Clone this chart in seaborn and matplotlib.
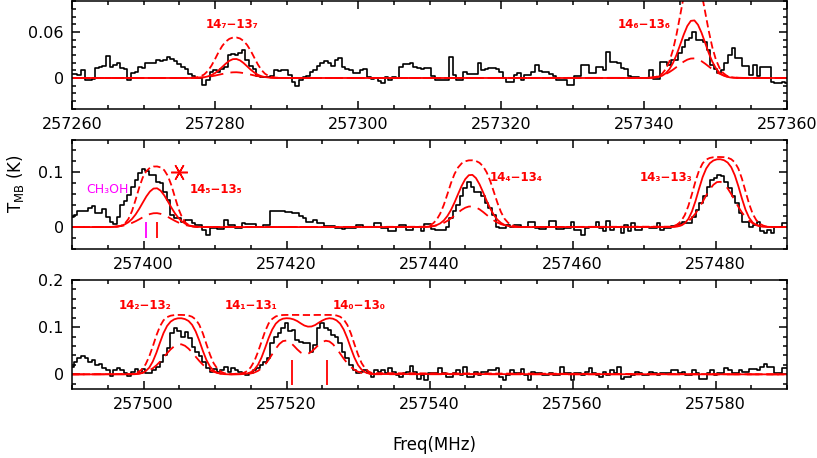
import numpy as np
import pandas as pd
import matplotlib
matplotlib.use("Agg")
import matplotlib.pyplot as plt
import seaborn as sns
from matplotlib.ticker import MultipleLocator

# ---------------- data ----------------
CHAN = 0.5  # channel width (MHz)
p1_start, p2_start, p3_start = 257260.0, 257390.0, 257490.0

obs_p1 = [
    0.005, 0.005, 0.004, 0.010, -0.002, -0.002, -0.001, 0.013, 0.014, 0.016,
    0.029, 0.015, 0.017, 0.019, 0.013, 0.012, -0.002, 0.006, 0.008, 0.015,
    0.013, 0.020, 0.020, 0.020, 0.023, 0.022, 0.024, 0.028, 0.025, 0.022,
    0.018, 0.015, 0.012, 0.005, 0.002, 0.000, 0.000, -0.009, -0.003, 0.008,
    0.011, 0.008, 0.012, 0.014, 0.030, 0.031, 0.030, 0.033, 0.036, 0.024,
    0.016, 0.012, 0.003, 0.001, 0.001, 0.001, 0.002, 0.010, 0.009, 0.010,
    0.011, 0.004, -0.005, -0.011, -0.003, 0.001, 0.002, 0.008, 0.010, 0.016,
    0.019, 0.022, 0.020, 0.016, 0.024, 0.026, 0.014, 0.012, 0.010, 0.007,
    0.006, 0.011, 0.012, 0.001, -0.001, 0.000, -0.004, -0.006, 0.001, -0.002,
    0.001, 0.000, 0.014, 0.018, 0.018, 0.019, 0.015, 0.013, 0.012, 0.013,
    0.0125, 0.002, -0.002, -0.002, -0.003, -0.003, 0.027, 0.004, -0.003, -0.003,
    0.008, 0.005, 0.005, 0.005, 0.019, 0.010, 0.012, 0.0125, 0.013, 0.012,
    0.008, 0.000, -0.005, -0.005, 0.004, 0.006, -0.002, 0.004, 0.004, 0.008,
    0.017, 0.009, 0.008, 0.008, 0.005, 0.003, -0.002, -0.003, -0.003, -0.009,
    -0.009, 0.002, 0.002, 0.017, 0.017, 0.006, 0.006, 0.015, 0.014, 0.010,
    0.034, 0.021, 0.021, 0.019, 0.013, 0.012, 0.003, 0.001, 0.001, 0.000,
    0.000, 0.000, 0.010, -0.001, -0.001, 0.021, 0.021, 0.017, 0.023, 0.023,
    0.032, 0.041, 0.049, 0.052, 0.060, 0.050, 0.050, 0.047, 0.036, 0.017,
    0.012, 0.006, 0.010, 0.019, 0.030, 0.039, 0.026, 0.026, 0.016, 0.016,
    0.004, 0.017, 0.002, 0.015, 0.015, 0.015, -0.005, -0.006, -0.006, -0.005,
    -0.006]

obs_p2 = [
    0.019, 0.022, 0.030, 0.030, 0.030, 0.035, 0.038, 0.026, 0.026, 0.033,
    0.019, 0.010, 0.006, 0.019, 0.040, 0.047, 0.059, 0.074, 0.086, 0.099,
    0.106, 0.102, 0.096, 0.096, 0.083, 0.080, 0.065, 0.050, 0.022, 0.016,
    0.016, 0.010, 0.013, 0.013, 0.007, 0.004, 0.004, -0.005, -0.014, -0.002,
    -0.002, -0.004, -0.004, 0.013, 0.004, 0.004, -0.002, -0.002, 0.007, 0.006,
    0.006, 0.006, 0.000, 0.000, 0.004, 0.004, 0.029, 0.030, 0.030, 0.030,
    0.027, 0.027, 0.025, 0.025, 0.021, 0.016, 0.010, 0.010, 0.013, 0.008,
    0.008, 0.002, 0.002, 0.002, -0.002, -0.002, -0.004, -0.002, -0.002, -0.002,
    0.004, 0.004, 0.000, 0.000, 0.000, 0.008, 0.008, -0.002, -0.002, -0.008,
    -0.008, 0.000, 0.004, 0.004, -0.005, -0.005, 0.001, 0.001, -0.008, 0.006,
    0.006, -0.004, -0.005, -0.005, -0.005, 0.001, 0.016, 0.029, 0.041, 0.056,
    0.071, 0.082, 0.074, 0.065, 0.065, 0.056, 0.044, 0.035, 0.022, 0.001,
    -0.002, -0.002, 0.004, 0.000, 0.004, 0.004, 0.000, 0.000, 0.010, 0.010,
    -0.002, -0.004, -0.004, 0.000, 0.012, 0.012, -0.004, -0.004, -0.002, -0.002,
    0.010, -0.005, -0.005, -0.014, -0.002, 0.000, 0.000, 0.010, -0.002, -0.008,
    0.012, -0.005, 0.000, 0.000, -0.011, 0.004, -0.008, 0.008, -0.005, -0.005,
    0.000, 0.000, -0.002, -0.002, 0.008, -0.005, -0.002, -0.002, 0.002, 0.002,
    0.006, 0.010, 0.008, 0.008, 0.019, 0.032, 0.044, 0.056, 0.074, 0.086,
    0.090, 0.096, 0.093, 0.083, 0.071, 0.056, 0.044, 0.026, 0.010, 0.010,
    0.001, 0.004, 0.010, -0.008, -0.011, -0.005, -0.010, 0.001, 0.001, 0.008,
    0.008]

obs_p3 = [
    0.016, 0.027, 0.034, 0.039, 0.034, 0.027, 0.030, 0.020, 0.022, 0.013,
    0.009, -0.004, 0.009, 0.013, 0.009, 0.002, -0.004, 0.006, 0.012, 0.002,
    0.011, 0.002, 0.003, 0.009, 0.015, 0.027, 0.041, 0.055, 0.087, 0.098,
    0.091, 0.080, 0.089, 0.077, 0.059, 0.048, 0.038, 0.027, 0.013, 0.006,
    0.011, 0.006, 0.009, 0.015, 0.006, 0.013, 0.009, 0.006, 0.002, -0.001,
    0.002, 0.009, 0.013, 0.020, 0.027, 0.034, 0.066, 0.080, 0.087, 0.098,
    0.108, 0.091, 0.094, 0.073, 0.069, 0.067, 0.066, 0.048, 0.062, 0.098,
    0.108, 0.098, 0.094, 0.084, 0.080, 0.066, 0.048, 0.034, 0.020, 0.009,
    0.002, 0.006, 0.009, 0.002, -0.005, 0.009, 0.006, 0.009, 0.003, 0.013,
    0.006, -0.001, -0.005, 0.002, 0.006, 0.018, 0.006, -0.009, -0.001, -0.012,
    0.002, 0.002, 0.002, 0.013, 0.003, -0.006, -0.006, 0.002, 0.009, -0.001,
    0.016, -0.005, -0.005, 0.006, -0.001, 0.006, 0.006, 0.009, 0.009, 0.013,
    -0.005, -0.012, -0.001, 0.009, 0.003, 0.003, 0.011, -0.001, -0.012, 0.006,
    0.002, 0.002, -0.001, -0.001, 0.003, -0.001, -0.001, 0.016, 0.002, 0.002,
    -0.012, 0.002, 0.002, -0.001, 0.006, 0.013, 0.002, -0.001, -0.005, 0.006,
    -0.001, 0.009, 0.002, 0.016, -0.009, -0.005, -0.005, -0.001, 0.006, 0.002,
    -0.001, -0.001, 0.006, 0.002, -0.001, 0.002, 0.002, 0.003, 0.009, 0.009,
    0.002, 0.006, -0.001, -0.001, 0.009, 0.002, -0.009, -0.009, 0.002, 0.009,
    -0.001, 0.002, 0.002, 0.013, 0.009, 0.002, 0.002, 0.009, 0.006, 0.006,
    0.011, 0.011, 0.009, 0.016, 0.023, 0.016, 0.016, 0.002, 0.002, 0.013,
    0.013]

# model profiles (solid = best fit, upper / lower = dashed envelopes), 0.5 MHz grid
m7_start = 257276.0
m7_solid = [0.0000, 0.0000, 0.0001, 0.0002, 0.0005, 0.0010, 0.0021, 0.0038, 0.0064, 0.0100, 0.0143, 0.0187, 0.0224, 0.0246, 0.0248, 0.0230, 0.0195, 0.0152, 0.0108, 0.0071, 0.0042, 0.0023, 0.0012, 0.0006, 0.0002, 0.0001, 0.0000, 0.0000, 0.0000]
m7_upper = [0.0000, 0.0001, 0.0004, 0.0009, 0.0022, 0.0047, 0.0093, 0.0160, 0.0246, 0.0338, 0.0417, 0.0475, 0.0511, 0.0528, 0.0529, 0.0516, 0.0484, 0.0430, 0.0355, 0.0265, 0.0176, 0.0104, 0.0055, 0.0026, 0.0011, 0.0004, 0.0002, 0.0000, 0.0000]
m7_lower = [0.0000, 0.0001, 0.0002, 0.0003, 0.0006, 0.0010, 0.0015, 0.0022, 0.0031, 0.0042, 0.0052, 0.0062, 0.0070, 0.0074, 0.0075, 0.0071, 0.0064, 0.0054, 0.0044, 0.0033, 0.0024, 0.0016, 0.0011, 0.0006, 0.0004, 0.0002, 0.0001, 0.0001, 0.0000]

m6_start = 257340.05
m6_solid = [0.0000, 0.0001, 0.0002, 0.0006, 0.0014, 0.0030, 0.0062, 0.0114, 0.0195, 0.0303, 0.0432, 0.0565, 0.0678, 0.0746, 0.0752, 0.0695, 0.0590, 0.0459, 0.0327, 0.0214, 0.0128, 0.0070, 0.0036, 0.0017, 0.0007, 0.0003, 0.0001, 0.0000, 0.0000]
m6_upper = [0.0000, 0.0001, 0.0004, 0.0011, 0.0026, 0.0057, 0.0117, 0.0215, 0.0366, 0.0570, 0.0814, 0.1063, 0.1275, 0.1404, 0.1415, 0.1308, 0.1110, 0.0864, 0.0616, 0.0403, 0.0241, 0.0133, 0.0067, 0.0031, 0.0013, 0.0005, 0.0002, 0.0001, 0.0000]
m6_lower = [0.0002, 0.0003, 0.0006, 0.0012, 0.0020, 0.0033, 0.0052, 0.0077, 0.0108, 0.0143, 0.0179, 0.0213, 0.0239, 0.0254, 0.0256, 0.0243, 0.0219, 0.0187, 0.0150, 0.0115, 0.0082, 0.0056, 0.0036, 0.0022, 0.0013, 0.0007, 0.0004, 0.0002, 0.0001]

m5_start = 257394.9
m5_solid = [0.0001, 0.0002, 0.0006, 0.0013, 0.0026, 0.0051, 0.0090, 0.0150, 0.0232, 0.0334, 0.0448, 0.0560, 0.0650, 0.0704, 0.0709, 0.0665, 0.0580, 0.0471, 0.0357, 0.0251, 0.0165, 0.0101, 0.0057, 0.0030, 0.0015, 0.0007, 0.0003, 0.0001, 0.0000]
m5_upper = [0.0000, 0.0001, 0.0003, 0.0009, 0.0025, 0.0065, 0.0150, 0.0296, 0.0501, 0.0723, 0.0908, 0.1023, 0.1083, 0.1106, 0.1108, 0.1090, 0.1040, 0.0936, 0.0765, 0.0545, 0.0333, 0.0174, 0.0078, 0.0031, 0.0011, 0.0003, 0.0001, 0.0000, 0.0000]
m5_lower = [0.0002, 0.0003, 0.0006, 0.0012, 0.0020, 0.0033, 0.0052, 0.0077, 0.0107, 0.0142, 0.0179, 0.0212, 0.0238, 0.0253, 0.0255, 0.0242, 0.0218, 0.0186, 0.0150, 0.0114, 0.0082, 0.0056, 0.0036, 0.0022, 0.0013, 0.0007, 0.0004, 0.0002, 0.0001]

m4_start = 257439.0
m4_solid = [0.0001, 0.0003, 0.0008, 0.0017, 0.0036, 0.0068, 0.0121, 0.0202, 0.0312, 0.0450, 0.0604, 0.0754, 0.0876, 0.0948, 0.0954, 0.0895, 0.0781, 0.0635, 0.0480, 0.0338, 0.0222, 0.0135, 0.0077, 0.0040, 0.0020, 0.0009, 0.0004, 0.0002, 0.0001]
m4_upper = [0.0006, 0.0013, 0.0031, 0.0067, 0.0135, 0.0247, 0.0405, 0.0600, 0.0802, 0.0971, 0.1090, 0.1164, 0.1202, 0.1219, 0.1220, 0.1208, 0.1174, 0.1109, 0.1000, 0.0839, 0.0643, 0.0444, 0.0274, 0.0152, 0.0078, 0.0036, 0.0015, 0.0007, 0.0002]
m4_lower = [0.0002, 0.0005, 0.0009, 0.0017, 0.0030, 0.0049, 0.0077, 0.0114, 0.0159, 0.0211, 0.0265, 0.0315, 0.0354, 0.0376, 0.0378, 0.0360, 0.0324, 0.0276, 0.0222, 0.0169, 0.0122, 0.0083, 0.0054, 0.0033, 0.0019, 0.0010, 0.0005, 0.0003, 0.0001]

m3_start = 257473.7
m3_solid = [0.0001, 0.0004, 0.0012, 0.0030, 0.0070, 0.0148, 0.0284, 0.0475, 0.0701, 0.0913, 0.1070, 0.1166, 0.1216, 0.1238, 0.1239, 0.1221, 0.1179, 0.1094, 0.0947, 0.0746, 0.0520, 0.0317, 0.0172, 0.0083, 0.0035, 0.0014, 0.0005, 0.0002, 0.0000]
m3_upper = [0.0008, 0.0022, 0.0051, 0.0111, 0.0218, 0.0385, 0.0602, 0.0837, 0.1034, 0.1165, 0.1233, 0.1263, 0.1276, 0.1280, 0.1280, 0.1277, 0.1267, 0.1240, 0.1183, 0.1068, 0.0883, 0.0652, 0.0425, 0.0243, 0.0128, 0.0060, 0.0026, 0.0010, 0.0004]
m3_lower = [0.0005, 0.0010, 0.0020, 0.0037, 0.0065, 0.0107, 0.0168, 0.0248, 0.0348, 0.0461, 0.0579, 0.0688, 0.0773, 0.0822, 0.0827, 0.0786, 0.0707, 0.0603, 0.0486, 0.0370, 0.0266, 0.0182, 0.0117, 0.0071, 0.0042, 0.0022, 0.0012, 0.0006, 0.0003]

m2_start = 257498.3
m2_solid = [0.0001, 0.0004, 0.0011, 0.0029, 0.0068, 0.0142, 0.0273, 0.0456, 0.0672, 0.0876, 0.1027, 0.1119, 0.1167, 0.1188, 0.1189, 0.1172, 0.1132, 0.1050, 0.0909, 0.0716, 0.0499, 0.0305, 0.0165, 0.0080, 0.0034, 0.0013, 0.0005, 0.0002, 0.0000]
m2_upper = [0.0008, 0.0021, 0.0050, 0.0109, 0.0214, 0.0379, 0.0592, 0.0824, 0.1018, 0.1147, 0.1213, 0.1244, 0.1256, 0.1260, 0.1260, 0.1257, 0.1247, 0.1221, 0.1164, 0.1051, 0.0869, 0.0641, 0.0418, 0.0239, 0.0126, 0.0059, 0.0026, 0.0010, 0.0004]
m2_lower = [0.0004, 0.0008, 0.0015, 0.0029, 0.0050, 0.0083, 0.0129, 0.0191, 0.0268, 0.0356, 0.0447, 0.0531, 0.0596, 0.0634, 0.0637, 0.0606, 0.0545, 0.0465, 0.0374, 0.0285, 0.0205, 0.0140, 0.0090, 0.0055, 0.0032, 0.0017, 0.0009, 0.0004, 0.0002]

m10_start = 257514.0   # blended 14_1-13_1 + 14_0-13_0
m10_solid = [0.0007, 0.0018, 0.0045, 0.0100, 0.0200, 0.0355, 0.0555, 0.0770, 0.0950, 0.1075, 0.1145, 0.1180, 0.1190, 0.1185, 0.1165, 0.1130, 0.1080, 0.1035, 0.1012, 0.1015, 0.1045, 0.1095, 0.1140, 0.1175, 0.1190, 0.1180, 0.1145, 0.1075, 0.0950, 0.0770, 0.0555, 0.0355, 0.0200, 0.0100, 0.0045, 0.0018, 0.0007]
m10_upper = [0.0030, 0.0070, 0.0150, 0.0280, 0.0470, 0.0690, 0.0910, 0.1080, 0.1175, 0.1228, 0.1250, 0.1258, 0.1260, 0.1260, 0.1260, 0.1260, 0.1259, 0.1258, 0.1258, 0.1258, 0.1259, 0.1260, 0.1260, 0.1260, 0.1260, 0.1257, 0.1248, 0.1222, 0.1165, 0.1050, 0.0870, 0.0640, 0.0420, 0.0240, 0.0125, 0.0060, 0.0025]
m10_lower = [0.0004, 0.0009, 0.0019, 0.0039, 0.0073, 0.0128, 0.0207, 0.0309, 0.0427, 0.0545, 0.0644, 0.0705, 0.0717, 0.0681, 0.0610, 0.0530, 0.0462, 0.0428, 0.0435, 0.0481, 0.0552, 0.0628, 0.0687, 0.0713, 0.0697, 0.0638, 0.0549, 0.0442, 0.0334, 0.0236, 0.0156, 0.0097, 0.0056, 0.0031, 0.0016, 0.0007, 0.0003]

# line labels (text, frequency, T)
labels_p1 = [("14₇−13₇", 257282.4, 0.070), ("14₆−13₆", 257340.0, 0.070)]
labels_p2 = [("14₅−13₅", 257410.1, 0.068), ("14₄−13₄", 257452.1, 0.090), ("14₃−13₃", 257473.1, 0.090)]
labels_p3 = [("14₂−13₂", 257500.2, 0.147), ("14₁−13₁", 257515.1, 0.147), ("14₀−13₀", 257530.1, 0.147)]
ch3oh_label = ("CH₃OH", 257395.0, 0.068)
ch3oh_freq = [257400.4]
line_freq_p2 = [257401.9]
line_freq_p3 = [257520.8, 257525.6]
star_freq, star_T = [257404.9], [0.1005]

# ---------------- plotting ----------------
sns.set_theme(style="ticks")
plt.rcParams["font.family"] = ["DejaVu Sans"]
plt.rcParams["mathtext.fontset"] = "dejavusans"
for k in ["text.color", "axes.labelcolor", "xtick.color", "ytick.color", "axes.edgecolor"]:
    plt.rcParams[k] = "black"

RED, MAG = "#ff0000", "#ff00ff"
fig = plt.figure(figsize=(8.17, 4.58), dpi=100)
L, W = 72 / 817, (787 - 72) / 817
def pos(top, bot):
    return [L, 1 - bot / 458, W, (bot - top) / 458]
ax1 = fig.add_axes(pos(0.5, 109))
ax2 = fig.add_axes(pos(139.5, 249))
ax3 = fig.add_axes(pos(280, 389))

panels = [
    (ax1, p1_start, obs_p1, [(m7_start, m7_solid, m7_upper, m7_lower), (m6_start, m6_solid, m6_upper, m6_lower)],
     (-0.0405, 0.1012), 0.06, 0.01),
    (ax2, p2_start, obs_p2, [(m5_start, m5_solid, m5_upper, m5_lower), (m4_start, m4_solid, m4_upper, m4_lower),
                              (m3_start, m3_solid, m3_upper, m3_lower)],
     (-0.04, 0.16), 0.1, 0.02),
    (ax3, p3_start, obs_p3, [(m2_start, m2_solid, m2_upper, m2_lower), (m10_start, m10_solid, m10_upper, m10_lower)],
     (-0.031, 0.2), 0.1, 0.02),
]

for ax, start, obs, models, ylim, ymaj, ymin in panels:
    f_obs = start + CHAN * np.arange(len(obs))
    sns.lineplot(x=f_obs, y=obs, ax=ax, color="black", lw=1.2, drawstyle="steps-mid",
                 estimator=None, sort=False)
    xmin, xmax = start, start + 100
    for key, ls in [("upper", (0, (4, 2))), ("lower", (0, (7, 4))), ("solid", "-")]:
        fx, fy = [xmin], [0.0]
        for mstart, ms, mu, ml in models:
            vals = {"solid": ms, "upper": mu, "lower": ml}[key]
            fx += list(mstart + CHAN * np.arange(len(vals)))
            fy += list(vals)
        fx.append(xmax); fy.append(0.0)
        df = pd.DataFrame({"f": fx, "T": fy})
        sns.lineplot(data=df, x="f", y="T", ax=ax, color=RED, lw=1.3, linestyle=ls,
                     estimator=None, sort=False)
    ax.set_xlim(xmin, xmax)
    ax.set_ylim(*ylim)
    ax.xaxis.set_major_locator(MultipleLocator(20))
    ax.xaxis.set_minor_locator(MultipleLocator(5))
    ax.yaxis.set_major_locator(MultipleLocator(ymaj))
    ax.yaxis.set_minor_locator(MultipleLocator(ymin))
    ax.tick_params(which="major", direction="in", bottom=True, top=True, left=True, right=True,
                   length=6, width=1.1, labelsize=11.5, pad=6, colors="black")
    ax.tick_params(which="minor", direction="in", bottom=True, top=True, left=True, right=True,
                   length=3, width=1.1, colors="black")
    ax.set_xlabel(""); ax.set_ylabel("")
    for sp in ax.spines.values():
        sp.set_linewidth(1.1); sp.set_color("black")
    ax.xaxis.set_major_formatter(plt.FuncFormatter(lambda v, p: f"{v:.0f}"))
    ax.yaxis.set_major_formatter(plt.FuncFormatter(lambda v, p: "0" if abs(v) < 1e-9 else f"{v:g}"))

txt_kw = dict(color=RED, fontsize=8.5, fontweight="bold", ha="center", va="center")
for ax, labs in [(ax1, labels_p1), (ax2, labels_p2), (ax3, labels_p3)]:
    for t, fx, fy in labs:
        ax.text(fx, fy, t, **txt_kw)
ax2.text(ch3oh_label[1], ch3oh_label[2], ch3oh_label[0], color=MAG, fontsize=9,
         ha="center", va="center")
ax2.vlines(ch3oh_freq, -0.020, 0.010, color=MAG, lw=1.3)
ax2.vlines(line_freq_p2, -0.020, 0.010, color=RED, lw=1.3)
ax3.vlines(line_freq_p3, -0.023, 0.030, color=RED, lw=1.3)
ax2.plot(star_freq, star_T, linestyle="none", marker=(6, 2, 90), markersize=12,
         markeredgecolor=RED, markeredgewidth=1.1, color=RED)

fig.text(15 / 817, 0.60, r"T$_{\rm MB}$ (K)", rotation=90, ha="center", va="center", fontsize=12)
fig.text(434 / 817, 1 - 445 / 458, "Freq(MHz)", ha="center", va="center", fontsize=12)

fig.savefig("out.png", dpi=100)
